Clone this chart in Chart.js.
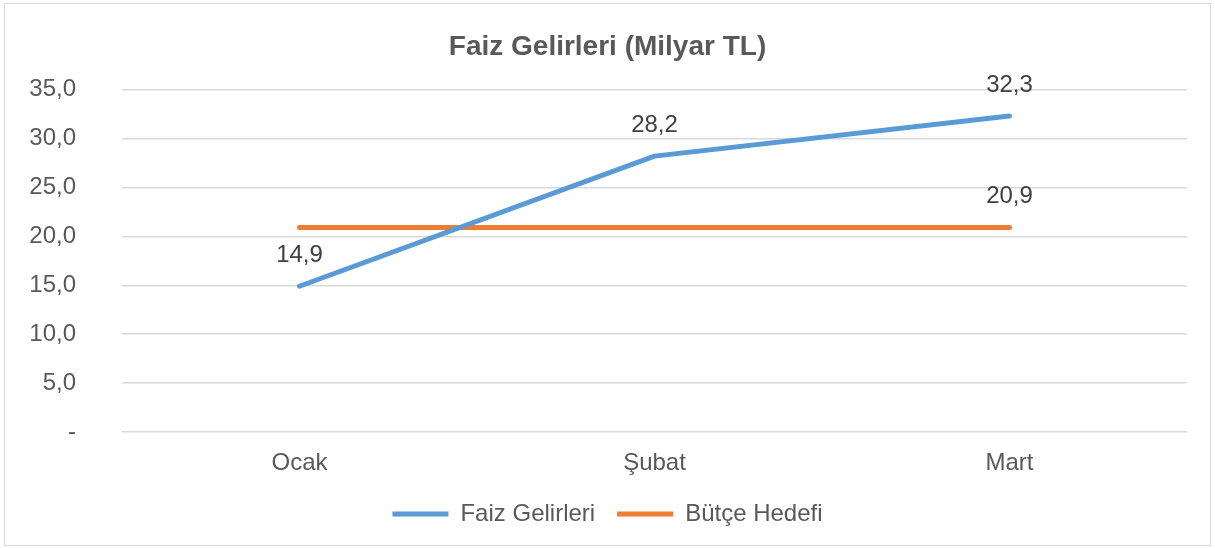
<!DOCTYPE html>
<html>
<head>
<meta charset="utf-8">
<script src="https://cdn.jsdelivr.net/npm/chart.js@4/dist/chart.umd.min.js"></script>
<style>
  html, body { margin: 0; padding: 0; background: #fff; }
  #wrap { position: relative; width: 1215px; height: 548px; }
  #frame { position: absolute; left: 4px; top: 3px; width: 1205px; height: 541px; border: 1px solid #d9d9d9; pointer-events: none; }
  canvas { position: absolute; left: 0; top: 0; }
</style>
</head>
<body>
<div id="wrap">
  <canvas id="c" width="1215" height="548"></canvas>
  <div id="frame"></div>
</div>
<script>
const categories = ['Ocak', 'Şubat', 'Mart'];
const faizGelirleri = [14.9, 28.2, 32.3];
const butceHedefi = [20.9, 20.9, 20.9];
const butceLabelShown = [false, false, true];
const yTicks = [0, 5, 10, 15, 20, 25, 30, 35];
const chartTitle = 'Faiz Gelirleri (Milyar TL)';
const seriesNames = ['Faiz Gelirleri', 'Bütçe Hedefi'];

const fmt = v => v === 0 ? '-' : v.toFixed(1).replace('.', ',');
const FONT = '"Liberation Sans", Arial, sans-serif';

const labelPlugin = {
  id: 'pointLabels',
  afterDatasetsDraw(chart) {
    const ctx = chart.ctx;
    ctx.save();
    ctx.font = '24px ' + FONT;
    ctx.fillStyle = '#404040';
    ctx.textAlign = 'center';
    ctx.textBaseline = 'middle';
    chart.data.datasets.forEach((ds, di) => {
      const meta = chart.getDatasetMeta(di);
      meta.data.forEach((pt, i) => {
        if (ds.showLabel && !ds.showLabel[i]) return;
        ctx.fillText(fmt(ds.data[i]), pt.x, pt.y - 31);
      });
    });
    ctx.restore();
  }
};

new Chart(document.getElementById('c'), {
  type: 'line',
  data: {
    labels: categories,
    datasets: [
      {
        label: seriesNames[0],
        data: faizGelirleri,
        borderColor: '#5B9BD5',
        backgroundColor: '#5B9BD5',
        borderWidth: 5,
        borderCapStyle: 'round',
        borderJoinStyle: 'round',
        pointRadius: 0,
        tension: 0
      },
      {
        label: seriesNames[1],
        data: butceHedefi,
        showLabel: butceLabelShown,
        borderColor: '#ED7D31',
        backgroundColor: '#ED7D31',
        borderWidth: 5,
        borderCapStyle: 'round',
        borderJoinStyle: 'round',
        pointRadius: 0,
        tension: 0
      }
    ]
  },
  options: {
    responsive: false,
    animation: false,
    layout: { padding: { left: 0, right: 0, top: 0, bottom: 12 } },
    plugins: {
      title: {
        display: true,
        text: chartTitle,
        color: '#595959',
        font: { family: FONT, size: 28, weight: 'bold' },
        padding: { top: 30, bottom: 26 }
      },
      legend: {
        position: 'bottom',
        labels: {
          usePointStyle: true,
          pointStyle: 'line',
          pointStyleWidth: 56,
          color: '#595959',
          font: { family: FONT, size: 24 },
          padding: 22
        }
      },
      tooltip: { enabled: false }
    },
    scales: {
      x: {
        offset: true,
        grid: { display: false, drawTicks: false },
        border: { display: false },
        ticks: {
          color: '#595959',
          font: { family: FONT, size: 24 },
          padding: 17
        },
        afterFit(scale) { scale.height = 48; }
      },
      y: {
        min: 0,
        max: 35,
        afterBuildTicks(scale) { scale.ticks = yTicks.map(v => ({ value: v })); },
        grid: { color: '#d9d9d9', lineWidth: 1.5, drawTicks: false },
        border: { display: false },
        ticks: {
          color: '#595959',
          font: { family: FONT, size: 24 },
          padding: 46,
          callback: v => fmt(v)
        },
        afterFit(scale) { scale.width = 122; }
      },
      yRightSpace: {
        position: 'right',
        min: 0,
        max: 35,
        grid: { display: false, drawTicks: false },
        border: { display: false },
        ticks: { display: false },
        afterFit(scale) { scale.width = 28; }
      }
    }
  },
  plugins: [labelPlugin]
});
</script>
</body>
</html>
